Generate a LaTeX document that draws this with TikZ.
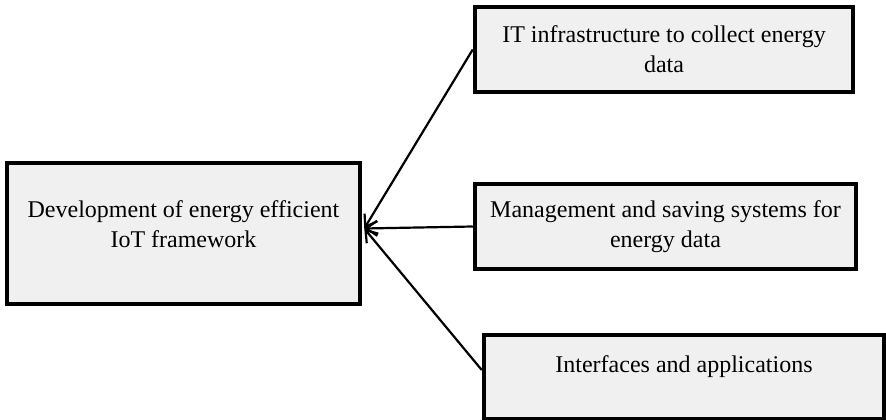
\documentclass[tikz,border=0pt]{standalone}
\usepackage{fontspec}
\setmainfont{Liberation Serif}
\usetikzlibrary{arrows.meta,calc}
\definecolor{boxfill}{RGB}{240,240,240}
\begin{document}
\begin{tikzpicture}[x=1pt,y=-1pt,
  box/.style={draw=black, line width=4.5pt, fill=boxfill, inner sep=0pt,
    align=center, font={\fontsize{24}{30}\selectfont}},
  link/.style={line width=2.2pt, -{Straight Barb[length=11pt,width=15pt,line width=2.2pt]}}]
  \useasboundingbox (0,0) rectangle (886,420);
  \clip (0,0) rectangle (886,420);
  \fill[white] (0,0) rectangle (886,420);

  % goal on the left
  \node[box, minimum width=353pt, minimum height=141pt, text depth=19pt]
    (dev) at (183.5,233.5) {Development of energy efficient\\IoT framework};

  % the three building blocks on the right
  \node[box, minimum width=378pt, minimum height=85pt]
    (infra) at (664,49.5) {IT infrastructure to collect energy\\data};
  \node[box, minimum width=381pt, minimum height=85pt]
    (mgmt) at (665.5,226.5) {Management and saving systems for\\energy data};
  \node[box, minimum width=400pt, minimum height=84pt, text depth=26pt]
    (intf) at (684,377) {Interfaces and applications};

  % arrows meet at one point on the goal box
  \coordinate (hub) at ($(dev.east)+(2,-5)$);
  \draw[link] (infra.west) -- (hub);
  \draw[link] (mgmt.west) -- (hub);
  \draw[link] ($(intf.west)+(0,-7)$) -- (hub);
\end{tikzpicture}
\end{document}
